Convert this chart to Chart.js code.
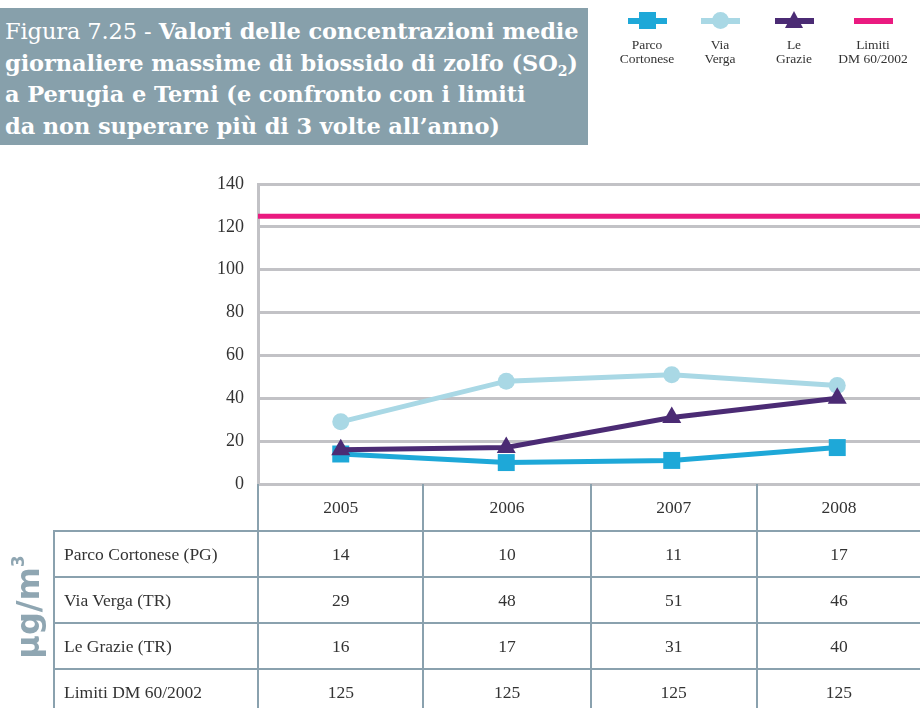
<!DOCTYPE html>
<html><head><meta charset="utf-8">
<script src="https://cdn.jsdelivr.net/npm/chart.js@4/dist/chart.umd.min.js"></script>
<style>
html,body{margin:0;padding:0;background:#fff;}
#wrap{position:relative;width:920px;height:708px;overflow:hidden;font-family:"Liberation Serif",serif;color:#333;}
#c{position:absolute;left:0;top:0;}
#title{position:absolute;left:0;top:8px;width:588px;height:137px;background:#87a0ab;color:#fff;
 font-family:"DejaVu Serif",serif;font-size:22.5px;line-height:31.5px;padding:8px 0 0 5px;box-sizing:border-box;white-space:nowrap;letter-spacing:-0.1px;}
#title .lt{font-weight:normal;}
#title b{font-weight:bold;}
#title sub{font-size:14px;vertical-align:-5px;line-height:0;}
.leg{position:absolute;top:10px;width:90px;text-align:center;font-size:13.5px;line-height:14px;color:#333;}
.leg .ln{position:relative;height:21px;}
.leg .ln .bar{position:absolute;left:26px;width:39px;top:8px;height:6px;}
.leg .mk{position:absolute;}
#unit{position:absolute;left:27px;top:607px;transform:translate(-50%,-50%) rotate(-90deg);font-family:"DejaVu Sans",sans-serif;
 font-weight:bold;font-size:32px;color:#8fa6b2;white-space:nowrap;}
#unit sup{font-size:17px;vertical-align:15px;}
#tbl{position:absolute;left:53px;top:484px;border-collapse:collapse;font-size:17.5px;color:#333;}
#tbl td{padding:0;border:2.5px solid #8aa1ae;text-align:center;}
#tbl td.lab{text-align:left;padding-left:9px;}
#tbl tr.hd td{height:46px;border-top:none;}
#tbl tr.hd td.empty{border:none;border-right:2.5px solid #8aa1ae;}
#tbl td:last-child{border-right:none;}
#tbl tr.bd td{height:44px;}
</style></head>
<body><div id="wrap">
<canvas id="c" width="920" height="708"></canvas>
<div id="title"><span class="lt">Figura 7.25 - </span><b>Valori delle concentrazioni medie<br>giornaliere massime di biossido di zolfo (SO<sub>2</sub>)<br>a Perugia e Terni (e confronto con i limiti<br>da non superare più di 3 volte all’anno)</b></div>
<div id="legend"></div>
<div id="unit">µg/m<sup>3</sup></div>
<table id="tbl"></table>
</div>
<script>
const years = ["2005","2006","2007","2008"];
const seriesNames = ["Parco Cortonese (PG)","Via Verga (TR)","Le Grazie (TR)","Limiti DM 60/2002"];
const legendNames = [["Parco","Cortonese"],["Via","Verga"],["Le","Grazie"],["Limiti","DM 60/2002"]];
const parcoCortonese = [14,10,11,17];
const viaVerga = [29,48,51,46];
const leGrazie = [16,17,31,40];
const limiti = [125,125,125,125];
const yTicks = [0,20,40,60,80,100,120,140];

const colors = ["#1ea8d8","#a9d8e5","#4b2b74","#ea1a80"];
const allSeries = [parcoCortonese, viaVerga, leGrazie, limiti];

const ctx = document.getElementById('c').getContext('2d');
new Chart(ctx,{
  type:'line',
  data:{
    labels:years,
    datasets:[
      {label:seriesNames[0],data:parcoCortonese,borderColor:colors[0],backgroundColor:colors[0],borderWidth:5,pointBorderWidth:0,pointStyle:'rect',pointRadius:12,pointHoverRadius:12,order:3,tension:0},
      {label:seriesNames[1],data:viaVerga,borderColor:colors[1],backgroundColor:colors[1],borderWidth:5,pointBorderWidth:0,pointStyle:'circle',pointRadius:8.5,pointHoverRadius:8.5,order:2,tension:0},
      {label:seriesNames[2],data:leGrazie,borderColor:colors[2],backgroundColor:colors[2],borderWidth:5,pointBorderWidth:0,pointStyle:'triangle',pointRadius:11,pointHoverRadius:11,order:1,tension:0},
      {label:seriesNames[3],data:limiti,xAxisID:'x2',borderColor:colors[3],backgroundColor:colors[3],borderWidth:5,pointRadius:0,order:0,clip:{left:4,right:0,top:0,bottom:0}}
    ]
  },
  options:{
    responsive:false,animation:false,
    layout:{autoPadding:false,padding:{top:184,bottom:224,left:0,right:0}},
    plugins:{legend:{display:false},tooltip:{enabled:false}},
    scales:{
      x:{type:'category',offset:true,display:false},
      x2:{type:'category',labels:years,offset:false,display:false},
      y:{min:0,max:140,
        afterFit:(s)=>{s.width=258;},
        afterBuildTicks:(s)=>{s.ticks=yTicks.map(v=>({value:v}));},
        ticks:{color:'#333',font:{family:'Liberation Serif',size:18},padding:14},
        grid:{color:'#c2c2c6',lineWidth:3,drawTicks:false},
        border:{color:'#c2c2c6',width:3}
      }
    }
  }
});

// legend
const legend = document.getElementById('legend');
const legCenters = [647,720,794,873];
legendNames.forEach((n,i)=>{
  const d=document.createElement('div');d.className='leg';d.style.left=(legCenters[i]-45)+'px';
  const ln=document.createElement('div');ln.className='ln';
  const bar=document.createElement('div');bar.className='bar';bar.style.background=colors[i];ln.appendChild(bar);
  const mk=document.createElement('div');mk.className='mk';
  if(i===0){mk.style.cssText='left:37px;top:2px;width:17px;height:17px;background:'+colors[i];}
  else if(i===1){mk.style.cssText='left:37px;top:2px;width:17px;height:17px;border-radius:50%;background:'+colors[i];}
  else if(i===2){mk.style.cssText='left:36px;top:1px;width:0;height:0;border-left:9.5px solid transparent;border-right:9.5px solid transparent;border-bottom:17px solid '+colors[i];}
  if(i<3) ln.appendChild(mk);
  d.appendChild(ln);
  const t=document.createElement('div');t.style.marginTop='7px';t.innerHTML=n[0]+'<br>'+n[1];d.appendChild(t);
  legend.appendChild(d);
});

// table
const tbl=document.getElementById('tbl');
const colW=[205,165,167,166,164];
let html='<tr class="hd"><td class="empty" style="width:'+colW[0]+'px"></td>';
years.forEach((y,j)=>{html+='<td style="width:'+colW[j+1]+'px">'+y+'</td>';});
html+='</tr>';
allSeries.forEach((s,i)=>{
  html+='<tr class="bd"><td class="lab">'+seriesNames[i]+'</td>';
  s.forEach(v=>{html+='<td>'+v+'</td>';});
  html+='</tr>';
});
tbl.innerHTML=html;
</script>
</body></html>
